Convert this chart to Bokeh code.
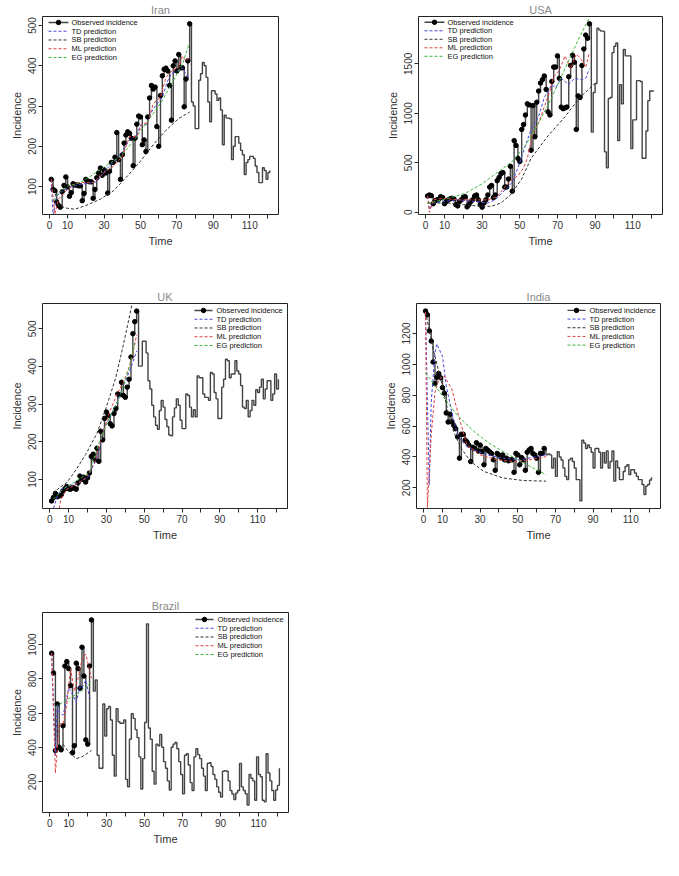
from bokeh.plotting import figure
from bokeh.layouts import column, row
from bokeh.models import Range1d, LinearAxis, FixedTicker, Grid
from bokeh.core.properties import value
from bokeh.embed import file_html
from bokeh.resources import INLINE

TIME_TICKS = [0, 10, 20, 30, 40, 50, 60, 70, 80, 90, 100, 110, 120]
TIME_LABELS = ["0", "10", "", "30", "", "50", "", "70", "", "90", "", "110", ""]
SERIES_NAMES = ["Observed incidence", "TD prediction", "SB prediction", "ML prediction", "EG prediction"]

iran_obs = [118, 93, 90, 62, 53, 49, 87, 103, 124, 99,
            76, 85, 107, 104, 104, 102, 102, 65, 83, 118,
            114, 112, 112, 71, 93, 122, 134, 146, 128, 142,
            134, 84, 138, 160, 160, 173, 234, 167, 118, 179,
            208, 228, 236, 232, 220, 152, 220, 255, 275, 273,
            204, 216, 187, 273, 320, 351, 342, 347, 249, 200,
            326, 375, 391, 394, 387, 351, 265, 400, 412, 387,
            428, 395, 395, 298, 367, 412, 504]
iran_rest = [310, 300, 244, 244, 364, 380, 408, 400, 371, 310,
             261, 338, 338, 330, 314, 320, 290, 204, 277, 270,
             270, 268, 167, 200, 224, 224, 208, 190, 179, 130,
             160, 167, 175, 175, 170, 151, 135, 110, 110, 147,
             140, 118, 135, 140]
iran_td_t = [1, 2, 4, 7, 11, 16, 21, 26, 31, 35, 40, 44, 48, 50, 53, 56, 59, 62, 65, 67, 70, 73, 76]
iran_td_y = [118, 30, 77, 88, 98, 105, 108, 112, 142, 160, 187, 216, 228, 253, 253, 285, 305, 322, 363, 380, 386, 395, 371]
iran_sb_t = [1, 5, 10, 14, 20, 28, 35, 42, 50, 57, 64, 71, 77]
iran_sb_y = [118, 53, 46, 44, 53, 69, 89, 122, 163, 204, 240, 269, 285]
iran_ml_t = [1, 3, 5, 9, 15, 24, 30, 35, 40, 44, 48, 51, 54, 57, 61, 64, 68, 71, 73, 75, 77]
iran_ml_y = [118, 32, 69, 89, 110, 110, 134, 150, 175, 224, 224, 257, 257, 306, 322, 371, 391, 395, 424, 412, 420]
iran_eg_t = [2, 5, 10, 17, 24, 31, 39, 46, 53, 61, 68, 73, 77]
iran_eg_y = [65, 85, 101, 110, 130, 151, 175, 212, 257, 306, 363, 404, 457]
iran_yticks = [100, 200, 300, 400, 500]

usa_obs = [165, 175, 168, 87, 116, 126, 132, 158, 149, 87,
           110, 126, 136, 142, 136, 78, 65, 110, 126, 152,
           158, 55, 78, 110, 126, 165, 175, 126, 78, 52,
           94, 126, 175, 255, 272, 149, 175, 320, 352, 391,
           401, 255, 255, 336, 465, 213, 724, 675, 546, 514,
           837, 886, 983, 1096, 1085, 627, 1079, 763, 1112, 1225,
           1306, 1340, 1377, 1241, 1015, 983, 1322, 1467, 1467, 1580,
           1354, 1063, 1047, 1055, 1063, 1370, 1483, 1587, 1516, 837,
           1176, 1160, 1483, 1650, 1790, 1758, 1904]
usa_rest = [810, 1210, 1300, 1860, 1840, 1830, 1830, 611, 449, 1150,
            1160, 1613, 1677, 1710, 724, 1290, 1096, 1645, 1580, 1580,
            1580, 643, 934, 934, 1330, 1330, 1322, 546, 546, 821,
            1128, 1225, 1225, 1230]
usa_td_t = [1, 2, 4, 9, 17, 26, 33, 37, 42, 46, 49, 53, 56, 60, 63, 67, 69, 72, 76, 79, 83, 85, 87]
usa_td_y = [165, 29, 94, 110, 126, 110, 94, 126, 223, 304, 449, 675, 837, 966, 1160, 1290, 1257, 1354, 1290, 1354, 1338, 1354, 1451]
usa_sb_t = [1, 3, 12, 20, 29, 35, 40, 45, 51, 56, 65, 74, 82, 91]
usa_sb_y = [94, 94, 94, 78, 61, 61, 94, 175, 336, 546, 772, 966, 1160, 1322]
usa_ml_t = [1, 2, 4, 9, 17, 26, 33, 38, 42, 46, 49, 52, 54, 57, 60, 63, 66, 68, 71, 74, 77, 80, 82, 85, 87]
usa_ml_y = [165, 0, 126, 142, 126, 126, 126, 158, 255, 336, 368, 449, 546, 805, 902, 1063, 1225, 1370, 1435, 1580, 1451, 1597, 1564, 1467, 1613]
usa_eg_t = [1, 9, 21, 30, 38, 46, 53, 60, 67, 74, 81, 87]
usa_eg_y = [94, 126, 191, 288, 401, 514, 675, 902, 1160, 1451, 1742, 1968]
usa_yticks = [0, 500, 1000, 1500]

uk_obs = [43, 52, 63, 54, 56, 58, 69, 75, 81, 75,
          74, 78, 77, 74, 91, 109, 100, 106, 93, 104,
          117, 161, 167, 152, 183, 148, 228, 205, 262, 279,
          270, 248, 242, 275, 288, 327, 325, 358, 323, 318,
          345, 366, 425, 487, 519, 547]
uk_rest = [401, 401, 467, 467, 436, 362, 340, 297, 266, 244,
           233, 283, 310, 292, 259, 240, 218, 216, 266, 290,
           314, 297, 257, 235, 235, 327, 323, 292, 266, 285,
           266, 375, 370, 370, 327, 318, 318, 310, 384, 380,
           331, 314, 262, 262, 345, 366, 419, 415, 370, 380,
           380, 415, 388, 380, 349, 292, 288, 310, 266, 283,
           310, 297, 338, 331, 345, 366, 314, 340, 362, 362,
           310, 327, 380, 340, 366]
uk_td_t = [2, 4, 6, 10, 15, 20, 25, 29, 32, 36, 39, 43, 46]
uk_td_y = [23, 56, 74, 83, 91, 104, 157, 240, 266, 310, 349, 397, 441]
uk_sb_t = [2, 5, 9, 14, 19, 25, 30, 35, 39, 44]
uk_sb_y = [62, 78, 91, 126, 166, 222, 292, 371, 458, 575]
uk_ml_t = [5, 6, 9, 14, 19, 24, 28, 32, 36, 39, 43, 46]
uk_ml_y = [23, 48, 74, 87, 104, 148, 222, 283, 331, 358, 410, 484]
uk_eg_t = [2, 7, 14, 21, 26, 31, 37, 42, 45]
uk_eg_y = [48, 74, 96, 117, 196, 257, 318, 397, 462]
uk_yticks = [100, 200, 300, 400, 500]

india_obs = [1345, 1321, 1217, 1151, 1015, 875, 917, 941, 913, 849,
             813, 685, 626, 677, 626, 604, 583, 530, 392, 547,
             547, 509, 498, 477, 370, 462, 455, 492, 438, 477,
             434, 349, 455, 445, 434, 423, 381, 313, 423, 413,
             398, 413, 381, 392, 375, 381, 381, 300, 423, 413,
             349, 396, 381, 313, 430, 445, 455, 423, 413, 392,
             300, 423, 423, 455]
india_rest = [413, 420, 413, 328, 392, 274, 434, 400, 380, 328,
              274, 253, 381, 392, 370, 328, 253, 253, 115, 508,
              490, 455, 477, 460, 430, 328, 455, 455, 430, 328,
              428, 360, 438, 328, 370, 438, 243, 374, 330, 253,
              253, 306, 338, 349, 285, 317, 317, 296, 274, 253,
              253, 221, 157, 211, 221, 250, 268]
india_td_t = [1, 2, 3, 4, 6, 7, 10, 12, 15, 18, 22, 27, 34, 42, 51, 60, 65]
india_td_y = [1338, 753, 221, 753, 1072, 1132, 1051, 860, 689, 540, 477, 445, 413, 392, 381, 402, 413]
india_sb_t = [1, 5, 10, 13, 16, 20, 25, 32, 42, 53, 65]
india_sb_y = [1338, 1100, 860, 689, 562, 455, 370, 306, 264, 247, 243]
india_ml_t = [1, 2, 4, 6, 8, 11, 15, 19, 23, 30, 39, 48, 56, 65]
india_ml_y = [1338, 72, 540, 817, 902, 924, 838, 647, 477, 413, 381, 370, 381, 402]
india_eg_t = [1, 10, 18, 27, 35, 44, 53, 65]
india_eg_y = [945, 796, 668, 562, 487, 423, 360, 285]
india_yticks = [200, 400, 600, 800, 1000, 1200]

brazil_obs = [950, 835, 383, 654, 402, 387, 527, 875, 901, 860,
              761, 370, 411, 892, 860, 746, 985, 817, 445, 420,
              875, 1144]
brazil_rest = [729, 794, 355, 280, 280, 654, 467, 626, 640, 561,
               355, 234, 626, 551, 542, 542, 561, 215, 172, 449,
               598, 570, 505, 458, 346, 159, 336, 546, 1121, 514,
               449, 262, 187, 420, 411, 477, 402, 318, 280, 206,
               153, 402, 420, 430, 393, 318, 243, 131, 355, 364,
               299, 196, 150, 346, 393, 359, 336, 280, 234, 150,
               308, 312, 290, 243, 215, 171, 140, 112, 262, 266,
               262, 206, 150, 130, 97, 135, 150, 308, 171, 150,
               131, 65, 243, 221, 206, 93, 346, 243, 230, 93,
               84, 364, 252, 206, 150, 93, 153, 180, 280]
brazil_td_t = [1, 3, 4, 5, 7, 8, 10, 12, 14, 16, 17, 19, 21, 22]
brazil_td_y = [950, 355, 654, 607, 589, 635, 748, 710, 664, 757, 748, 794, 692, 682]
brazil_sb_t = [7, 10, 14, 17, 22]
brazil_sb_y = [420, 374, 336, 346, 383]
brazil_ml_t = [1, 3, 5, 7, 9, 11, 13, 15, 17, 19, 22]
brazil_ml_y = [950, 252, 542, 533, 654, 860, 729, 804, 916, 944, 804]
brazil_eg_t = [3, 8, 14, 19, 22]
brazil_eg_y = [635, 673, 710, 748, 785]
brazil_yticks = [200, 400, 600, 800, 1000]

PRED_COLORS = ["#4848dc", "#333333", "#e04040", "#3cb43c"]
OBS_COLOR = "#444444"
FONT = "Liberation Sans"
AX_COL = "#2a2a2a"
GAP = 8
TOP = 15


def spacer_axis():
    return LinearAxis(ticker=FixedTicker(ticks=[]), axis_line_color=None,
                      major_tick_line_color=None, minor_tick_line_color=None,
                      major_tick_in=0, major_tick_out=GAP, minor_tick_in=0, minor_tick_out=0,
                      major_label_standoff=0, major_label_text_font_size="1px")


def style_axis(ax):
    ax.axis_line_color = AX_COL
    ax.major_tick_line_color = AX_COL
    ax.major_tick_in = 0
    ax.major_tick_out = 4
    ax.minor_tick_line_color = None
    ax.major_label_standoff = 2
    ax.major_label_text_font = FONT
    ax.major_label_text_font_size = "10px"
    ax.major_label_text_color = "#333333"
    ax.axis_label_text_font = FONT
    ax.axis_label_text_font_size = "11px"
    ax.axis_label_text_font_style = "normal"
    ax.axis_label_text_color = "#333333"
    ax.axis_label_standoff = 3


def panel(name, obs, rest, preds, yticks, legend_side, L, W, R, H, B):
    series = obs + rest
    n = len(series)
    days = list(range(1, n + 1))
    pad_x = 0.04 * (n - 1)
    ymin, ymax = min(series), max(series)
    pad_y = 0.04 * (ymax - ymin)
    xlo, xhi = 1 - pad_x, n + pad_x
    ylo, yhi = ymin - pad_y, ymax + pad_y
    p = figure(width=L + W + R, height=TOP + H + B, title=name,
               x_range=Range1d(xlo, xhi), y_range=Range1d(ylo, yhi),
               x_axis_location=None, y_axis_location=None,
               toolbar_location=None, output_backend="svg",
               min_border_left=L, min_border_right=R,
               min_border_top=TOP, min_border_bottom=B)
    p.center = [c for c in p.center if not isinstance(c, Grid)]
    p.outline_line_color = "#222222"
    p.outline_line_width = 1
    p.background_fill_color = "white"
    p.border_fill_color = "white"
    p.title.align = "center"
    p.title.text_font = FONT
    p.title.text_font_size = "11px"
    p.title.text_font_style = "normal"
    p.title.text_color = "#8a8a8a"
    p.title.standoff = 2

    xa = LinearAxis(ticker=FixedTicker(ticks=TIME_TICKS), bounds=(TIME_TICKS[0], TIME_TICKS[-1]),
                    axis_label="Time",
                    major_label_overrides={t: lab for t, lab in zip(TIME_TICKS, TIME_LABELS)})
    style_axis(xa)
    ya = LinearAxis(ticker=FixedTicker(ticks=yticks), bounds=(yticks[0], yticks[-1]),
                    axis_label="Incidence", major_label_orientation="vertical")
    style_axis(ya)
    p.add_layout(spacer_axis(), "below")
    p.add_layout(xa, "below")
    p.add_layout(spacer_axis(), "left")
    p.add_layout(ya, "left")

    # data
    p.step(days, series, mode="after", line_color=OBS_COLOR, line_width=1.4)
    p.scatter(days[:len(obs)], obs, size=4.5, color="black")
    for (t, y), col in zip(preds, PRED_COLORS):
        p.line(t, y, line_color=col, line_width=1, line_dash="3 2")

    # legend (R style, no box), placed by pixel offsets inside the frame
    dx = (xhi - xlo) / W
    dy = (yhi - ylo) / H
    if legend_side == "left":
        g0 = xlo + 6 * dx
        g1 = xlo + 26 * dx
        tx = xlo + 29 * dx
        top_off = 6
    else:
        g0 = xhi - 93 * dx
        g1 = xhi - 75 * dx
        tx = xhi - 71 * dx
        top_off = 7
    rows = [yhi - (top_off + 8.8 * i) * dy for i in range(5)]
    p.segment(x0=[g0], y0=[rows[0]], x1=[g1], y1=[rows[0]],
              line_color=OBS_COLOR, line_width=1.4)
    p.scatter([(g0 + g1) / 2], [rows[0]], size=4.5, color="black")
    for ry, col in zip(rows[1:], PRED_COLORS):
        p.segment(x0=[g0], y0=[ry], x1=[g1], y1=[ry],
                  line_color=col, line_width=1, line_dash="3 2")
    p.text(x=[tx] * 5, y=rows, text=SERIES_NAMES, text_font=value(FONT),
           text_font_size="7.5px", text_color="#111111",
           text_baseline="middle", text_align="left")
    return p


p_iran = panel("Iran", iran_obs, iran_rest,
               [(iran_td_t, iran_td_y), (iran_sb_t, iran_sb_y), (iran_ml_t, iran_ml_y), (iran_eg_t, iran_eg_y)],
               iran_yticks, "left", 42, 236, 98, 199, 73)
p_usa = panel("USA", usa_obs, usa_rest,
              [(usa_td_t, usa_td_y), (usa_sb_t, usa_sb_y), (usa_ml_t, usa_ml_y), (usa_eg_t, usa_eg_y)],
              usa_yticks, "left", 42, 244, 4, 205, 67)
p_uk = panel("UK", uk_obs, uk_rest,
             [(uk_td_t, uk_td_y), (uk_sb_t, uk_sb_y), (uk_ml_t, uk_ml_y), (uk_eg_t, uk_eg_y)],
             uk_yticks, "right", 42, 245, 87, 206, 88)
p_india = panel("India", india_obs, india_rest,
                [(india_td_t, india_td_y), (india_sb_t, india_sb_y), (india_ml_t, india_ml_y), (india_eg_t, india_eg_y)],
                india_yticks, "right", 42, 244, 4, 208, 86)
p_brazil = panel("Brazil", brazil_obs, brazil_rest,
                 [(brazil_td_t, brazil_td_y), (brazil_sb_t, brazil_sb_y), (brazil_ml_t, brazil_ml_y), (brazil_eg_t, brazil_eg_y)],
                 brazil_yticks, "right", 42, 246, 4, 201, 44)

layout = column(row(p_iran, p_usa), row(p_uk, p_india), row(p_brazil))

with open("out.html", "w") as f:
    f.write(file_html(layout, INLINE))
